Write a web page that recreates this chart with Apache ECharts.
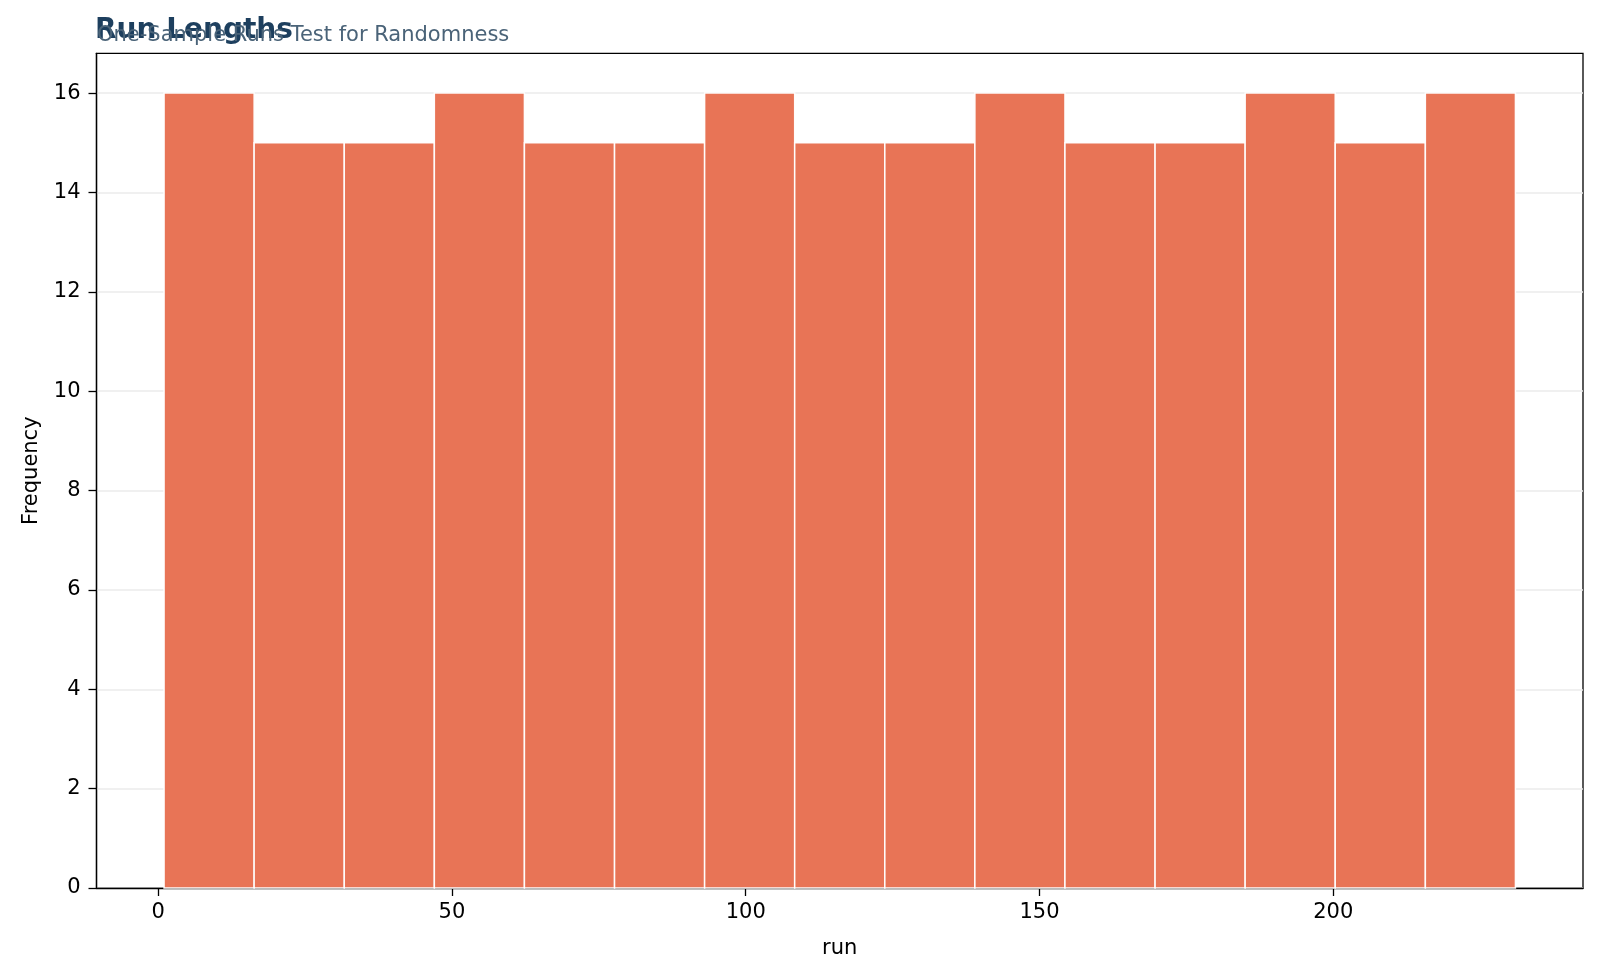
<!DOCTYPE html>
<html>
<head>
<meta charset="utf-8">
<script src="https://cdn.jsdelivr.net/npm/echarts@6/dist/echarts.min.js"></script>
<style>
html,body{margin:0;padding:0;background:#fff;}
#chart{width:1600px;height:977px;}
</style>
</head>
<body>
<div id="chart"></div>
<script>
const binEdges = [1, 16.33, 31.67, 47, 62.33, 77.67, 93, 108.33, 123.67, 139, 154.33, 169.67, 185, 200.33, 215.67, 231];
const binCounts = [16, 15, 15, 16, 15, 15, 16, 15, 15, 16, 15, 15, 16, 15, 16];
const xTicks = [0, 50, 100, 150, 200];
const yTicks = [0, 2, 4, 6, 8, 10, 12, 14, 16];
const titleText = 'Run Lengths';
const subtitleText = 'One-Sample Runs Test for Randomness';
const xName = 'run';
const yName = 'Frequency';

const bars = binCounts.map((c, i) => [binEdges[i], binEdges[i + 1], c]);
const font = 'DejaVu Sans';

const chart = echarts.init(document.getElementById('chart'), null, {renderer: 'canvas'});
chart.setOption({
  animation: false,
  backgroundColor: '#fff',
  title: [
    {text: titleText, left: 95, top: 17, padding: 0,
     textStyle: {fontFamily: font, fontSize: 28, fontWeight: 'bold', color: '#1d3f5e'}},
    {text: subtitleText, left: 97, top: 25, padding: 0,
     textStyle: {fontFamily: font, fontSize: 21, fontWeight: 'normal', color: '#4a6378'}}
  ],
  grid: {left: 96.5, right: 17, top: 53.3, bottom: 89, show: true, borderColor: '#000', borderWidth: 1.3, containLabel: false},
  xAxis: {
    type: 'value', min: -10.5, max: 242.5,
    name: xName, nameLocation: 'middle', nameGap: 50,
    nameTextStyle: {fontFamily: font, fontSize: 21, color: '#000'},
    axisLine: {show: true, onZero: false, lineStyle: {color: '#000', width: 1.3}},
    axisTick: {show: true, inside: false, length: 8, customValues: xTicks, lineStyle: {color: '#000', width: 1.3}},
    axisLabel: {customValues: xTicks, margin: 14, fontFamily: font, fontSize: 21, color: '#000'},
    splitLine: {show: false}
  },
  yAxis: {
    type: 'value', min: 0, max: 16.8,
    name: yName, nameLocation: 'middle', nameGap: 54, nameRotate: 90,
    nameTextStyle: {fontFamily: font, fontSize: 21, color: '#000'},
    axisLine: {show: true, onZero: false, lineStyle: {color: '#000', width: 1.3}},
    axisTick: {show: true, length: 8, customValues: yTicks, lineStyle: {color: '#000', width: 1.3}},
    axisLabel: {customValues: yTicks, margin: 16, fontFamily: font, fontSize: 21, color: '#000'},
    splitLine: {show: true, lineStyle: {color: '#ebebeb', width: 1.5}}
  },
  series: [{
    type: 'custom',
    data: bars,
    encode: {x: [0, 1], y: 2},
    renderItem: function (params, api) {
      const p0 = api.coord([api.value(0), api.value(2)]);
      const p1 = api.coord([api.value(1), 0]);
      return {
        type: 'rect',
        shape: {x: p0[0], y: p0[1], width: p1[0] - p0[0], height: p1[1] - p0[1]},
        style: {fill: '#e76f51', opacity: 0.97, stroke: '#ffffff', lineWidth: 1.5}
      };
    }
  }]
});
</script>
</body>
</html>
